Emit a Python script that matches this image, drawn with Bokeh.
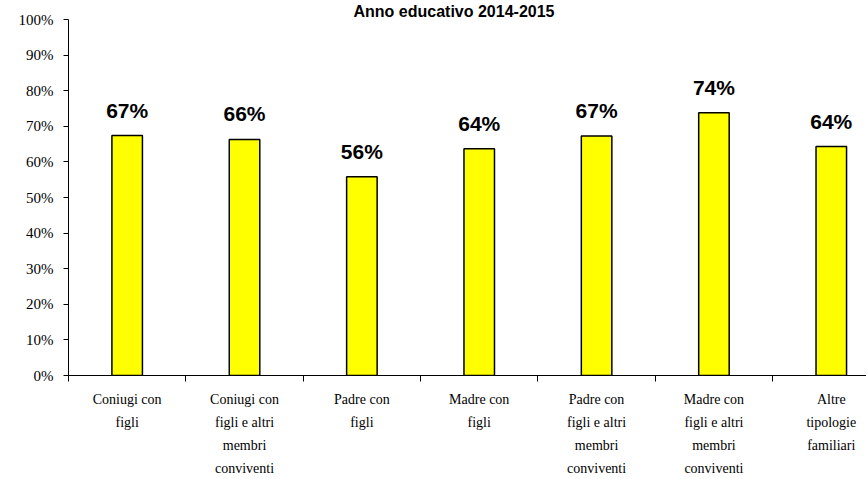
from bokeh.plotting import figure
from bokeh.models import (ColumnDataSource, Range1d, FixedTicker, LabelSet)
from bokeh.core.properties import value
from bokeh.embed import file_html
from bokeh.resources import INLINE

title_text = "Anno educativo 2014-2015"
categories = [
    "Coniugi con\nfigli",
    "Coniugi con\nfigli e altri\nmembri\nconviventi",
    "Padre con\nfigli",
    "Madre con\nfigli",
    "Padre con\nfigli e altri\nmembri\nconviventi",
    "Madre con\nfigli e altri\nmembri\nconviventi",
    "Altre\ntipologie\nfamiliari",
]
values = [67.4, 66.3, 55.8, 63.7, 67.3, 73.8, 64.3]
value_labels = ["67%", "66%", "56%", "64%", "67%", "74%", "64%"]
y_ticks = [0, 10, 20, 30, 40, 50, 60, 70, 80, 90, 100]

SANS = "'Liberation Sans'"
SERIF = "'Liberation Serif'"

xs = [i + 0.5 for i in range(len(categories))]
source = ColumnDataSource(data=dict(x=xs, top=values, lab=value_labels))

p = figure(width=866, height=479, output_backend="svg", toolbar_location=None,
           x_range=Range1d(0, 6.8), y_range=Range1d(0, 100),
           min_border_left=68, min_border_right=0, min_border_top=0,
           min_border_bottom=101)
p.outline_line_color = None
p.xgrid.visible = False
p.ygrid.visible = False
p.background_fill_color = "white"
p.border_fill_color = "white"

p.title.text = title_text
p.title.align = "left"
p.title.offset = 285
p.title.standoff = 0
p.title.text_font = SANS
p.title.text_font_style = "bold"
p.title.text_font_size = "16px"
p.title.text_color = "black"

p.vbar(x="x", top="top", bottom=0, width=0.26, source=source,
       fill_color="#FFFF00", line_color="black", line_width=1.5)

labels = LabelSet(x="x", y="top", text="lab", source=source,
                  text_align="center", text_baseline="alphabetic", y_offset=18,
                  text_font=value(SANS), text_font_style="bold",
                  text_font_size="21px", text_color="black")
p.add_layout(labels)

# Y axis
p.yaxis.ticker = FixedTicker(ticks=y_ticks)
p.yaxis.major_label_overrides = {t: f"{t}%" for t in y_ticks}
p.yaxis.major_tick_out = 5
p.yaxis.major_tick_in = 0
p.yaxis.minor_tick_out = 0
p.yaxis.minor_tick_in = 0
p.yaxis.major_label_standoff = 10
p.yaxis.major_label_text_font = SERIF
p.yaxis.major_label_text_font_size = "15px"
p.yaxis.major_label_text_color = "black"
p.yaxis.axis_line_color = "black"
p.yaxis.major_tick_line_color = "black"

# X axis
p.xaxis.ticker = FixedTicker(ticks=xs, minor_ticks=list(range(len(categories) + 1)))
p.xaxis.major_label_overrides = {x: c for x, c in zip(xs, categories)}
p.xaxis.major_tick_out = 0
p.xaxis.major_tick_in = 0
p.xaxis.minor_tick_out = 6
p.xaxis.minor_tick_in = 0
p.xaxis.major_label_standoff = 10
p.xaxis.major_label_text_font = SERIF
p.xaxis.major_label_text_font_size = "14px"
p.xaxis.major_label_text_line_height = 1.55
p.xaxis.major_label_text_color = "black"
p.xaxis.axis_line_color = "black"
p.xaxis.minor_tick_line_color = "black"

open("out.html", "w").write(file_html(p, INLINE))
